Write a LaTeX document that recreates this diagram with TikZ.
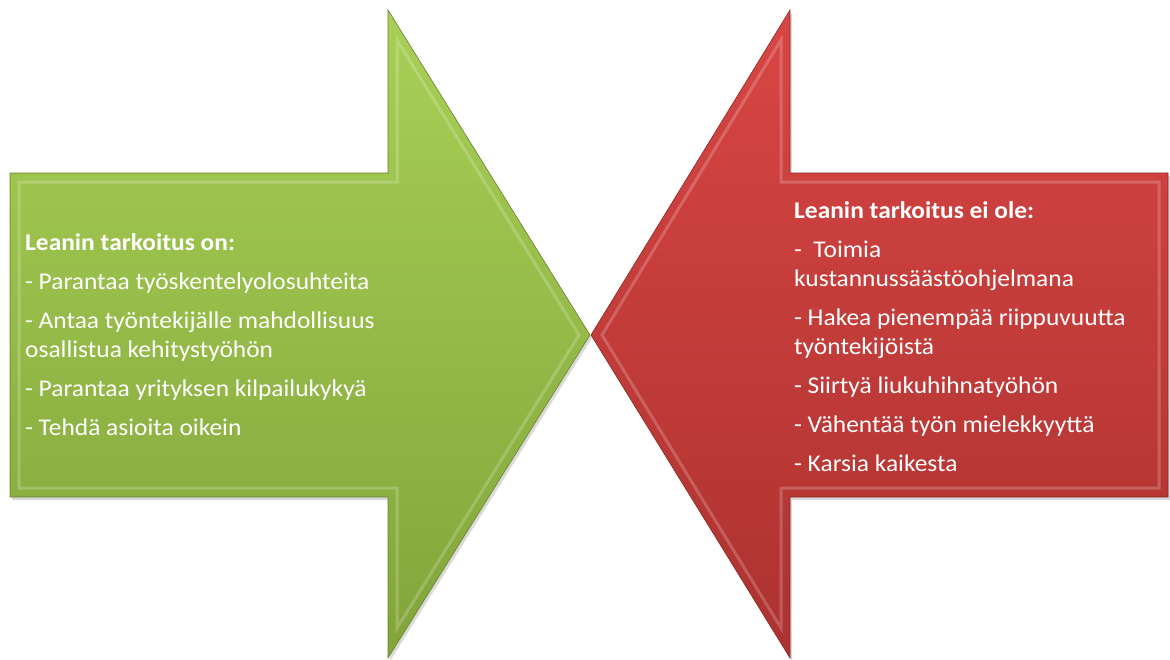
\documentclass[tikz,border=0pt]{standalone}
\usepackage{fontspec}
\setmainfont{Carlito}[FakeStretch=1.06]
\usetikzlibrary{shadows}

\definecolor{leangreentop}{RGB}{168,208,86}
\definecolor{leangreenbot}{RGB}{130,164,58}
\definecolor{leanredtop}{RGB}{216,70,68}
\definecolor{leanredbot}{RGB}{172,50,48}

\begin{document}
\begin{tikzpicture}[x=1pt, y=-1pt,
  bigarrow/.style={drop shadow={opacity=0.3, shadow xshift=2pt, shadow yshift=-3pt}},
  greenfill/.style={bigarrow, top color=leangreentop, bottom color=leangreenbot, draw=leangreenbot!80!black, line width=0.6pt},
  redfill/.style={bigarrow, top color=leanredtop, bottom color=leanredbot, draw=leanredbot!80!black, line width=0.6pt},
  bevel/.style={draw=white, opacity=0.2, line width=3pt},
  leantext/.style={text=white, align=left, inner sep=0pt, anchor=north west, font=\fontsize{24}{29}\selectfont}]

\useasboundingbox (0,0) rectangle (1170,659);

% Green arrow (pointing right)
\path[greenfill] (10,173) -- (388,173) -- (388,10) -- (590,335) -- (388,658) -- (388,497) -- (10,497) -- cycle;
\draw[bevel] (19,182) -- (397,182) -- (397,40) -- (579,335) -- (397,628) -- (397,488) -- (19,488) -- cycle;

% Red arrow (pointing left)
\path[redfill] (1168,173) -- (790,173) -- (790,10) -- (591,335) -- (790,658) -- (790,497) -- (1168,497) -- cycle;
\draw[bevel] (1159,182) -- (781,182) -- (781,40) -- (602,335) -- (781,628) -- (781,488) -- (1159,488) -- cycle;

% Texts
\node[leantext] (ontext) at (25,233) {\textbf{Leanin tarkoitus on:}\\[10pt]%
  - Parantaa työskentelyolosuhteita\\[10pt]%
  - Antaa työntekijälle mahdollisuus\\%
  osallistua kehitystyöhön\\[10pt]%
  - Parantaa yrityksen kilpailukykyä\\[10pt]%
  - Tehdä asioita oikein};

\node[leantext] (eioletext) at (794,201) {\textbf{Leanin tarkoitus ei ole:}\\[10pt]%
  - ~Toimia\\%
  kustannussäästöohjelmana\\[10pt]%
  - Hakea pienempää riippuvuutta\\%
  työntekijöistä\\[10pt]%
  - Siirtyä liukuhihnatyöhön\\[10pt]%
  - Vähentää työn mielekkyyttä\\[10pt]%
  - Karsia kaikesta};

\end{tikzpicture}
\end{document}
